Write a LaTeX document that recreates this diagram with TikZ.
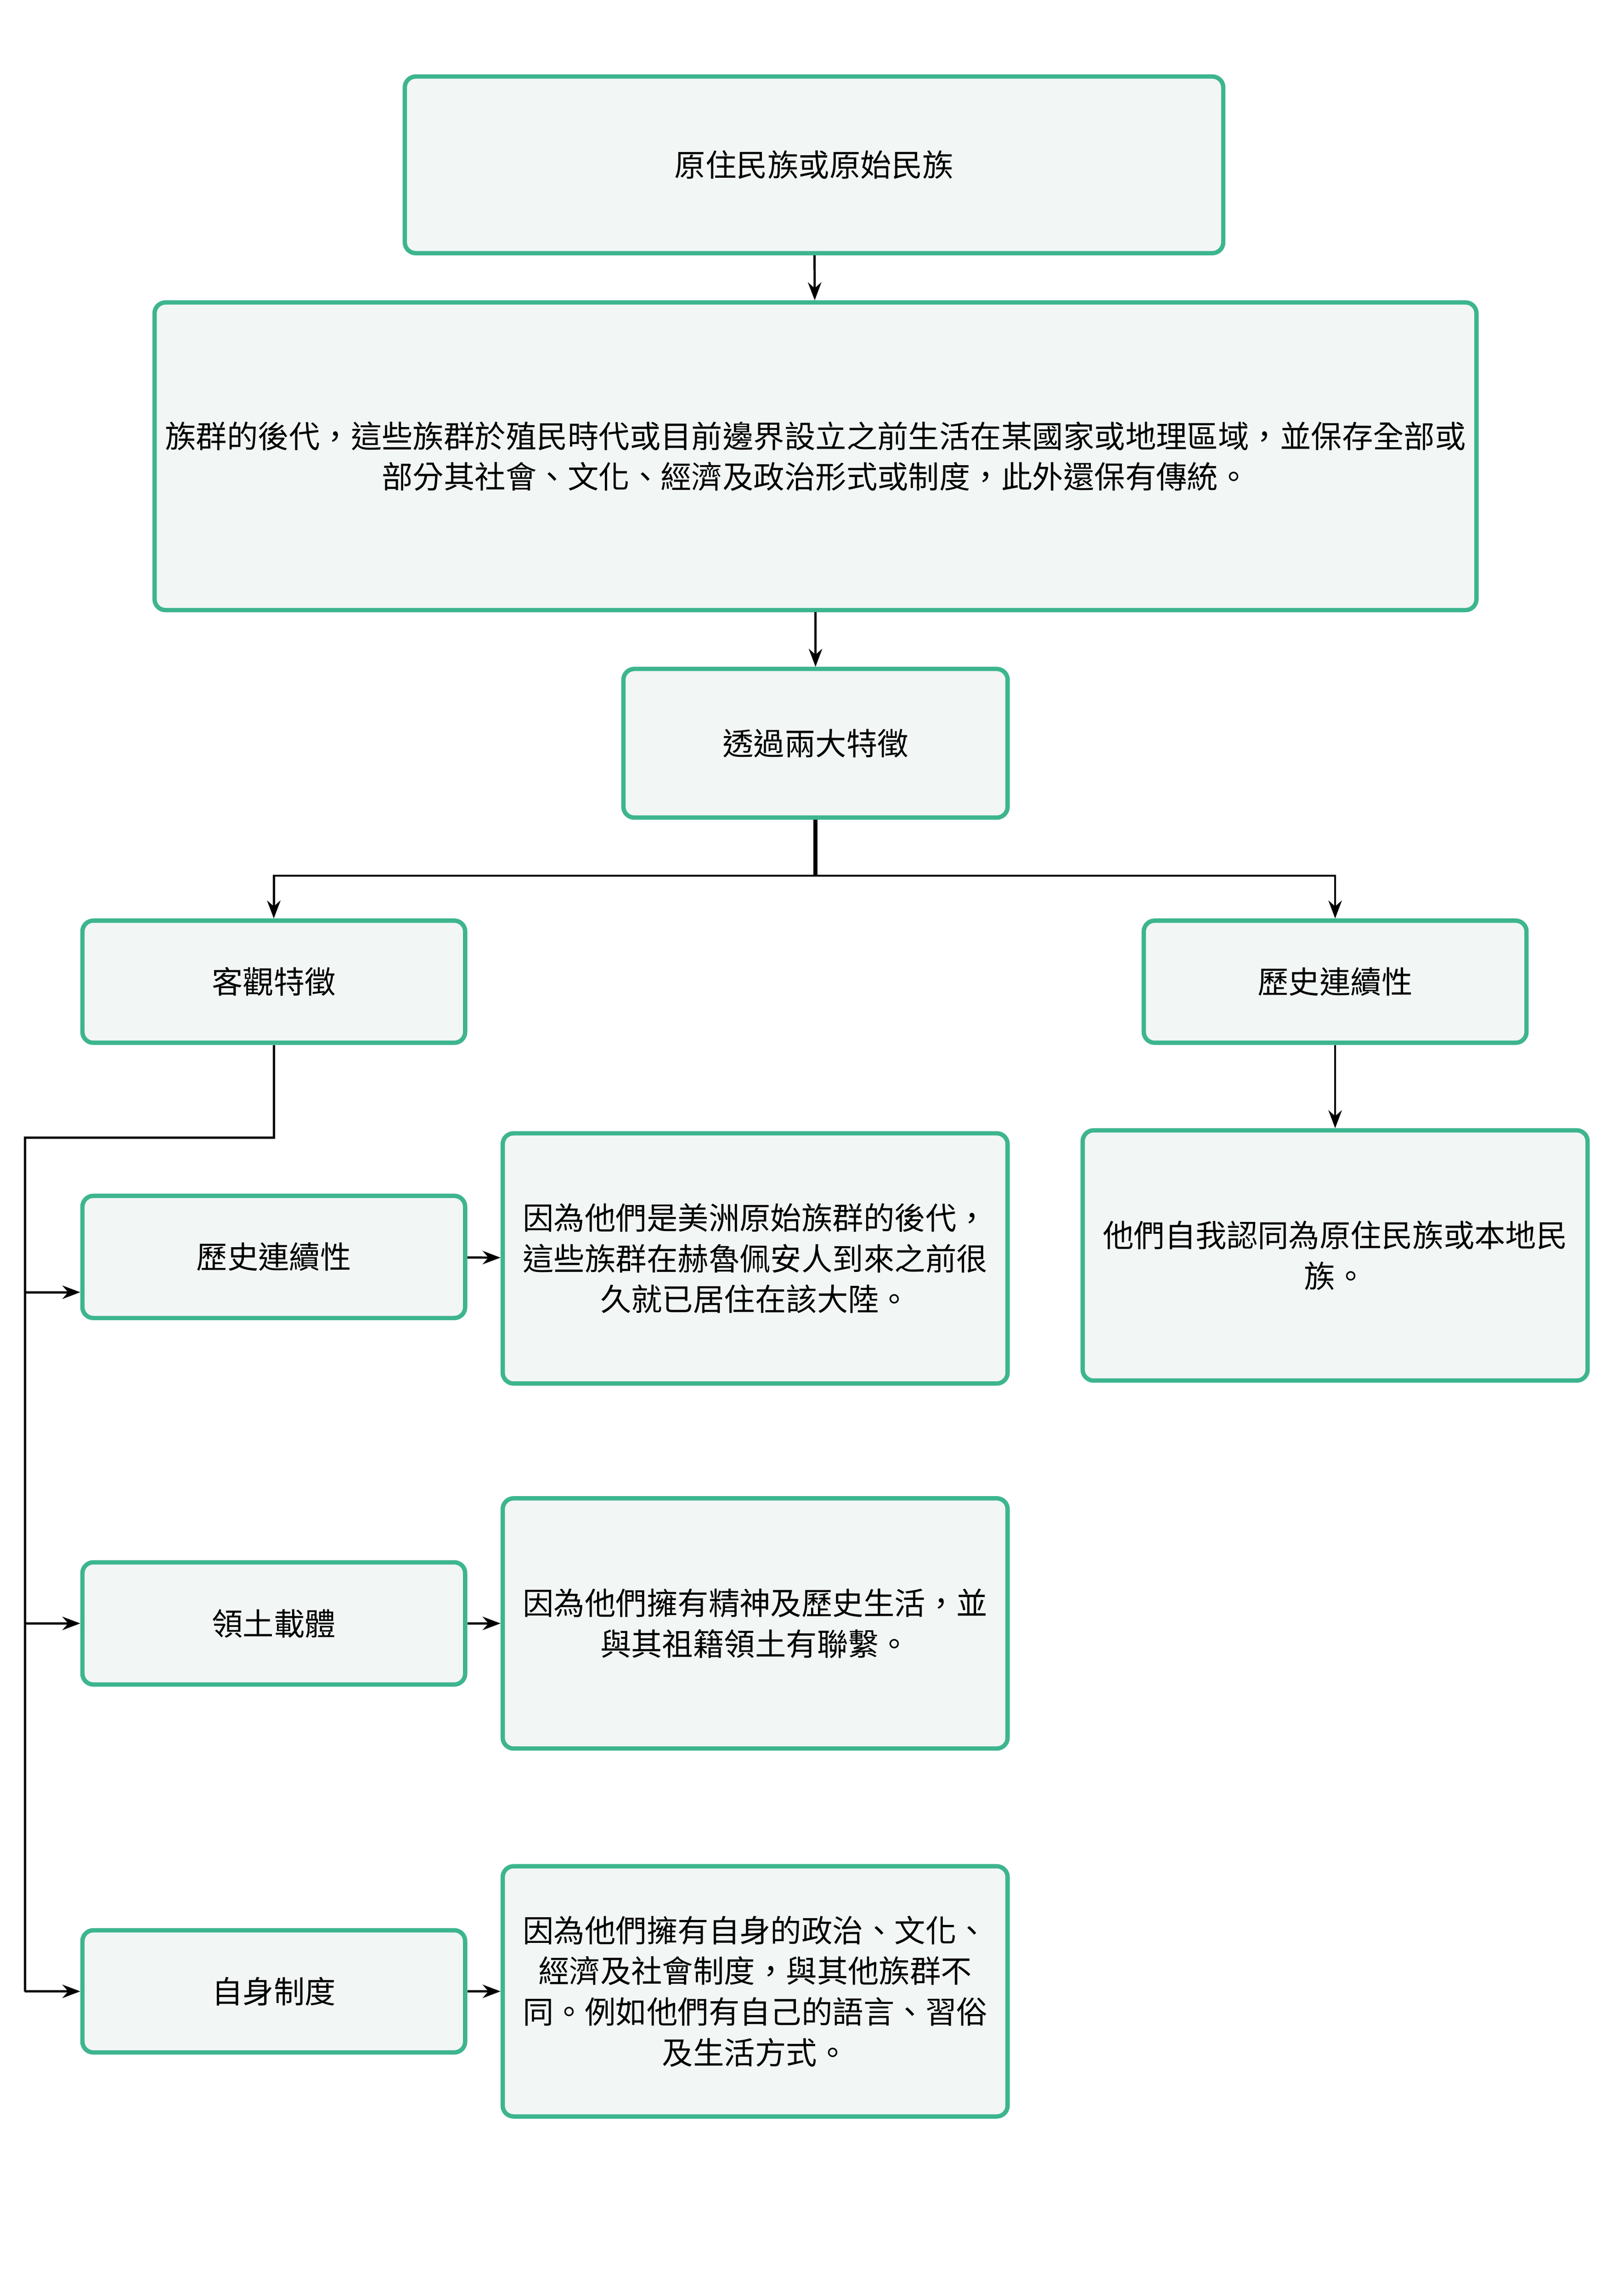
\documentclass[tikz,border=0pt]{standalone}
\usepackage{fontspec}
\setmainfont{Noto Sans CJK TC}
\usetikzlibrary{positioning,arrows.meta}
\definecolor{boxline}{HTML}{3DB58F}
\definecolor{boxfill}{HTML}{F2F6F4}
\newcommand\px{0.01904cm}
\tikzset{>=Stealth,
  box/.style={draw=boxline,fill=boxfill,line width=1.6pt,rounded corners=4pt,
    align=center,font=\fontsize{11.4}{15}\selectfont,inner sep=2pt},
  link/.style={->,line width=0.8pt}}
\begin{document}
\begin{tikzpicture}[x=\px,y=-\px]
\useasboundingbox (0,0) rectangle (1103,1560);
\node[box,minimum width=556*\px,minimum height=120*\px] (origin) at (553,112) {原住民族或原始民族};
\node[box,minimum width=898*\px,minimum height=209*\px] (define) at (554,310) {族群的後代，這些族群於殖民時代或目前邊界設立之前生活在某國家或地理區域，並保存全部或\\部分其社會、文化、經濟及政治形式或制度，此外還保有傳統。};
\node[box,minimum width=261*\px,minimum height=101*\px] (two) at (554,505) {透過兩大特徵};
\node[box,minimum width=260*\px,minimum height=83*\px] (obj) at (186,667) {客觀特徵};
\node[box,minimum width=260*\px,minimum height=83*\px] (hist) at (907,667) {歷史連續性};
\node[box,minimum width=343*\px,minimum height=170*\px] (self) at (907,853) {他們自我認同為原住民族或本地民\\族。};
\node[box,minimum width=260*\px,minimum height=83*\px] (cont) at (186,854) {歷史連續性};
\node[box,minimum width=343*\px,minimum height=170*\px] (conttext) at (513,855) {因為他們是美洲原始族群的後代，\\這些族群在赫魯佩安人到來之前很\\久就已居住在該大陸。};
\node[box,minimum width=260*\px,minimum height=83*\px] (land) at (186,1103) {領土載體};
\node[box,minimum width=343*\px,minimum height=170*\px] (landtext) at (513,1103) {因為他們擁有精神及歷史生活，並\\與其祖籍領土有聯繫。};
\node[box,minimum width=260*\px,minimum height=83*\px] (inst) at (186,1353) {自身制度};
\node[box,minimum width=343*\px,minimum height=170*\px] (insttext) at (513,1353) {因為他們擁有自身的政治、文化、\\經濟及社會制度，與其他族群不\\同。例如他們有自己的語言、習俗\\及生活方式。};
\coordinate (split) at (554,595);
\coordinate (corner) at (17,773);
\draw[link] (origin) -- (define);
\draw[link] (define) -- (two);
\draw[line width=1.6pt] (two) -- (split);
\draw[link] (split) -| (obj);
\draw[link] (split) -| (hist);
\draw[link] (hist) -- (self);
\draw[line width=0.8pt] (obj.south) |- (corner) -- (17,1353);
\draw[link] (17,878) -- (cont.west|-17,878);
\draw[link] (17,1103) -- (land);
\draw[link] (17,1353) -- (inst);
\draw[link] (cont) -- (conttext);
\draw[link] (land) -- (landtext);
\draw[link] (inst) -- (insttext);
\end{tikzpicture}
\end{document}
